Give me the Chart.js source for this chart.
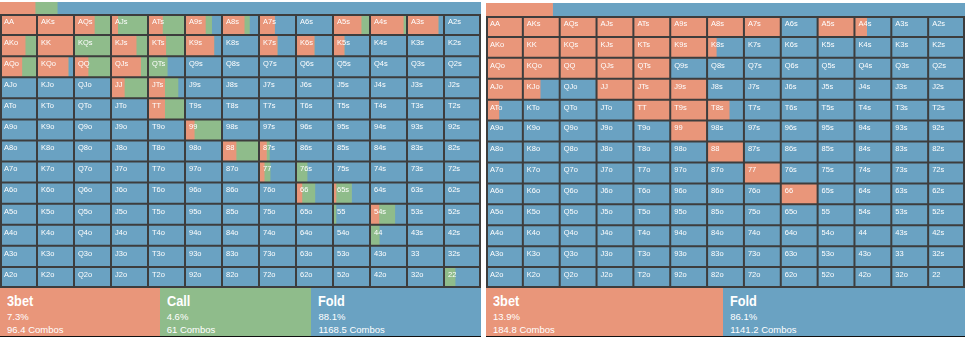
<!DOCTYPE html>
<html>
<head>
<meta charset="utf-8">
<script src="https://cdn.jsdelivr.net/npm/chart.js@4.4.0/dist/chart.umd.min.js"></script>
<style>
  body { margin: 0; background: #fff; width: 965px; height: 337px; overflow: hidden;
         font-family: "Liberation Sans", Arial, sans-serif; }
  .panel { position: absolute; top: 0; height: 337px; }
  .panel canvas { position: absolute; left: 0; }
  .legend { position: absolute; left: 0; top: 288px; height: 48px; display: flex;
            border-bottom: 1px solid #111; }
  .box { flex: 1 1 auto; color: #fff; padding: 5px 7px 0; box-sizing: border-box; }
  .box b { display: block; font-size: 15px; line-height: 15px; margin-bottom: 2px;
           transform: scaleX(.85); transform-origin: left; }
  .box span { display: block; font-size: 9.5px; line-height: 13px; white-space: nowrap; }
</style>
</head>
<body>
<div class="panel" id="left" style="left:0;width:481px">
  <canvas id="leftStrip" width="481" height="12" style="top:2px"></canvas>
  <canvas id="leftGrid" width="481" height="274" style="top:14px"></canvas>
  <div class="legend" id="leftLegend" style="width:481px"></div>
</div>
<div class="panel" id="right" style="left:486px;width:479px">
  <canvas id="rightStrip" width="479" height="13" style="top:3px"></canvas>
  <canvas id="rightGrid" width="479" height="272" style="top:16px"></canvas>
  <div class="legend" id="rightLegend" style="width:479px"></div>
</div>
<script>
const ranks = ['A', 'K', 'Q', 'J', 'T', '9', '8', '7', '6', '5', '4', '3', '2'];

const RAISE = '#e9967a';
const CALL = '#8fbc8b';
const FOLD = '#6aa2c2';

// --- share of each hand per action (rows/cols follow ranks) ---
const leftRaise = [
  [1, 1, 0.55, 0.18, 0.39, 0.55, 0.6, 0.42, 0, 0.76, 0.9, 0.84, 0],
  [0.68, 1, 0, 0.68, 0.48, 0.78, 0, 0.49, 0.49, 0.3, 0, 0, 0],
  [0.59, 0.84, 0.38, 0.8, 0, 0, 0, 0, 0, 0, 0, 0, 0],
  [0, 0, 0, 0.36, 0.45, 0, 0, 0, 0, 0, 0, 0, 0],
  [0, 0, 0, 0, 0.45, 0, 0, 0, 0, 0, 0, 0, 0],
  [0, 0, 0, 0, 0, 0.25, 0, 0, 0, 0, 0, 0, 0],
  [0, 0, 0, 0, 0, 0, 0.38, 0.2, 0, 0, 0, 0, 0],
  [0, 0, 0, 0, 0, 0, 0, 0.14, 0, 0, 0, 0, 0],
  [0, 0, 0, 0, 0, 0, 0, 0, 0.16, 0.08, 0, 0, 0],
  [0, 0, 0, 0, 0, 0, 0, 0, 0, 0, 0.24, 0, 0],
  [0, 0, 0, 0, 0, 0, 0, 0, 0, 0, 0, 0, 0],
  [0, 0, 0, 0, 0, 0, 0, 0, 0, 0, 0, 0, 0],
  [0, 0, 0, 0, 0, 0, 0, 0, 0, 0, 0, 0, 0]
];

const leftCall = [
  [0, 0, 0.45, 0.82, 0.61, 0.17, 0.14, 0, 0, 0.24, 0.08, 0, 0],
  [0.32, 0, 1, 0.32, 0.52, 0, 0, 0, 0, 0, 0, 0, 0],
  [0.41, 0, 0.62, 0.2, 0.52, 0, 0, 0, 0, 0, 0, 0, 0],
  [0, 0, 0, 0.64, 0.36, 0, 0, 0, 0, 0, 0, 0, 0],
  [0, 0, 0, 0, 0.55, 0, 0, 0, 0, 0, 0, 0, 0],
  [0, 0, 0, 0, 0, 0.75, 0, 0, 0, 0, 0, 0, 0],
  [0, 0, 0, 0, 0, 0, 0.62, 0.08, 0, 0, 0, 0, 0],
  [0, 0, 0, 0, 0, 0, 0, 0.16, 0.3, 0, 0, 0, 0],
  [0, 0, 0, 0, 0, 0, 0, 0, 0.35, 0.42, 0, 0, 0],
  [0, 0, 0, 0, 0, 0, 0, 0, 0, 0.08, 0.43, 0, 0],
  [0, 0, 0, 0, 0, 0, 0, 0, 0, 0, 0.25, 0, 0],
  [0, 0, 0, 0, 0, 0, 0, 0, 0, 0, 0, 0, 0],
  [0, 0, 0, 0, 0, 0, 0, 0, 0, 0, 0, 0, 0.3]
];

const rightRaise = [
  [1, 1, 1, 1, 1, 1, 1, 1, 0, 1, 0.33, 0, 0],
  [1, 1, 1, 1, 1, 1, 0.25, 0, 0, 0, 0, 0, 0],
  [1, 1, 1, 1, 1, 0, 0, 0, 0, 0, 0, 0, 0],
  [1, 0.47, 0, 1, 1, 1, 0, 0, 0, 0, 0, 0, 0],
  [0.35, 0, 0, 0, 1, 1, 0.6, 0, 0, 0, 0, 0, 0],
  [0, 0, 0, 0, 0, 1, 0, 0, 0, 0, 0, 0, 0],
  [0, 0, 0, 0, 0, 0, 1, 0, 0, 0, 0, 0, 0],
  [0, 0, 0, 0, 0, 0, 0, 1, 0, 0, 0, 0, 0],
  [0, 0, 0, 0, 0, 0, 0, 0, 1, 0, 0, 0, 0],
  [0, 0, 0, 0, 0, 0, 0, 0, 0, 0, 0, 0, 0],
  [0, 0, 0, 0, 0, 0, 0, 0, 0, 0, 0, 0, 0],
  [0, 0, 0, 0, 0, 0, 0, 0, 0, 0, 0, 0, 0],
  [0, 0, 0, 0, 0, 0, 0, 0, 0, 0, 0, 0, 0]
];

// --- totals ---
const leftActions = ['3bet', 'Call', 'Fold'];
const leftPct = [7.3, 4.6, 88.1];
const leftCombos = [96.4, 61, 1168.5];

const rightActions = ['3bet', 'Fold'];
const rightPct = [13.9, 86.1];
const rightCombos = [184.8, 1141.2];

function handName(r, c) {
  if (r === c) return ranks[r] + ranks[c];
  return r < c ? ranks[r] + ranks[c] + 's' : ranks[c] + ranks[r] + 'o';
}

// cell borders + hand names, drawn over the bars
const cellPlugin = {
  id: 'cells',
  afterDatasetsDraw(chart) {
    const { ctx, chartArea: a, scales: { x, y } } = chart;
    ctx.save();
    ctx.strokeStyle = '#3d3d3d';
    ctx.lineWidth = 2;
    ctx.beginPath();
    for (let i = 0; i <= ranks.length; i++) {
      const px = Math.min(Math.max(x.getPixelForValue(i), a.left + 1), a.right - 1);
      ctx.moveTo(px, a.top);
      ctx.lineTo(px, a.bottom);
      const py = Math.min(Math.max(y.getPixelForValue(i - 0.5), a.top + 1), a.bottom - 1);
      ctx.moveTo(a.left, py);
      ctx.lineTo(a.right, py);
    }
    ctx.stroke();

    ctx.fillStyle = '#fff';
    ctx.font = '7.5px "Liberation Sans", Arial, sans-serif';
    ctx.textBaseline = 'top';
    ranks.forEach((_, r) => {
      ranks.forEach((_, c) => {
        ctx.fillText(handName(r, c), x.getPixelForValue(c) + 4, y.getPixelForValue(r - 0.5) + 4);
      });
    });
    ctx.restore();
  }
};

const baseOptions = {
  indexAxis: 'y',
  responsive: false,
  animation: false,
  devicePixelRatio: 1,
  layout: { padding: 0 },
  plugins: { legend: { display: false }, tooltip: { enabled: false } },
  datasets: { bar: { barPercentage: 1, categoryPercentage: 1, borderWidth: 0 } }
};

function buildGrid(id, shares, colors) {
  // the last colour takes whatever each hand has left
  const datasets = [];
  ranks.forEach((_, c) => {
    const cols = shares.map(m => ranks.map((_, r) => m[r][c]));
    const rest = ranks.map((_, r) => Math.max(0, 1 - shares.reduce((s, m) => s + m[r][c], 0)));
    cols.concat([rest]).forEach((data, k) => {
      datasets.push({ data, backgroundColor: colors[k] });
    });
  });
  return new Chart(document.getElementById(id), {
    type: 'bar',
    data: { labels: ranks, datasets },
    options: {
      ...baseOptions,
      scales: {
        x: { type: 'linear', min: 0, max: ranks.length, stacked: true, display: false },
        y: { stacked: true, display: false }
      }
    },
    plugins: [cellPlugin]
  });
}

function buildStrip(id, pct, colors) {
  return new Chart(document.getElementById(id), {
    type: 'bar',
    data: {
      labels: [''],
      datasets: pct.map((p, k) => ({ data: [p], backgroundColor: colors[k] }))
    },
    options: {
      ...baseOptions,
      scales: {
        x: { min: 0, max: 100, stacked: true, display: false },
        y: { stacked: true, display: false }
      }
    }
  });
}

function buildLegend(id, names, pct, combos, colors) {
  const el = document.getElementById(id);
  names.forEach((n, k) => {
    const box = document.createElement('div');
    box.className = 'box';
    box.style.background = colors[k];
    box.innerHTML = `<b>${n}</b><span>${pct[k]}%</span><span>${combos[k]} Combos</span>`;
    el.appendChild(box);
  });
}

const leftColors = [RAISE, CALL, FOLD];
const rightColors = [RAISE, FOLD];

buildStrip('leftStrip', leftPct, leftColors);
buildGrid('leftGrid', [leftRaise, leftCall], leftColors);
buildLegend('leftLegend', leftActions, leftPct, leftCombos, leftColors);

buildStrip('rightStrip', rightPct, rightColors);
buildGrid('rightGrid', [rightRaise], rightColors);
buildLegend('rightLegend', rightActions, rightPct, rightCombos, rightColors);
</script>
</body>
</html>
